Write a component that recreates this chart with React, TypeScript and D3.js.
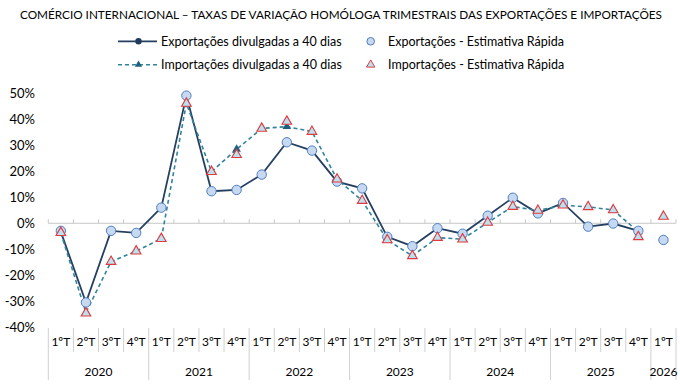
import React, { useEffect, useRef } from 'react';
import * as d3 from 'd3';

// Trimestres 2020T1 .. 2026T1
const years: string[] = ['2020', '2021', '2022', '2023', '2024', '2025', '2026'];
const quarterLabels: string[] = [
    '1ºT', '2ºT', '3ºT', '4ºT', '1ºT', '2ºT', '3ºT', '4ºT', '1ºT', '2ºT', '3ºT', '4ºT',
    '1ºT', '2ºT', '3ºT', '4ºT', '1ºT', '2ºT', '3ºT', '4ºT', '1ºT', '2ºT', '3ºT', '4ºT', '1ºT'
];
const yearOfQuarter: string[] = [
    '2020', '2020', '2020', '2020', '2021', '2021', '2021', '2021', '2022', '2022', '2022', '2022',
    '2023', '2023', '2023', '2023', '2024', '2024', '2024', '2024', '2025', '2025', '2025', '2025', '2026'
];

// Exportações divulgadas a 40 dias (%)
const exp40: (number | null)[] = [
    -3.3, -30.4, -2.9, -3.7, 6.0, 49.0, 12.3, 12.8, 18.7, 31.1, 27.9, 16.0,
    13.4, -5.2, -8.8, -1.9, -4.0, 2.9, 9.8, 3.8, 7.8, -1.3, -0.1, -2.9, null
];
// Importações divulgadas a 40 dias (%)
const imp40: (number | null)[] = [
    -3.8, -34.3, -14.7, -10.7, -5.9, 46.0, 19.8, 28.4, 36.4, 37.1, 35.2, 16.9,
    8.7, -6.4, -12.5, -5.5, -6.1, 0.3, 6.4, 4.9, 6.9, 6.3, 5.1, -3.3, null
];
// Exportações - Estimativa Rápida (%)
const expFlash: (number | null)[] = [
    -2.9, -30.4, -2.9, -3.7, 6.0, 49.0, 12.3, 12.8, 18.7, 31.1, 27.9, 16.0,
    13.4, -5.2, -8.8, -1.9, -4.0, 2.9, 9.8, 3.8, 7.8, -1.3, -0.1, -2.9, -6.4
];
// Importações - Estimativa Rápida (%)
const impFlash: (number | null)[] = [
    -3.6, -34.5, -14.7, -10.7, -5.9, 46.0, 19.8, 26.3, 36.4, 39.1, 35.2, 16.9,
    8.7, -6.4, -12.5, -5.5, -6.1, 0.3, 6.4, 4.9, 6.9, 6.3, 5.1, -5.2, 2.6
];
const yTicks: number[] = [-40, -30, -20, -10, 0, 10, 20, 30, 40, 50];

const FONT = "Lato, 'Open Sans', sans-serif";

const App: React.FC = () => {
    const svgRef = useRef<SVGSVGElement>(null);

    useEffect(() => {
        if (!svgRef.current) return;
        const svg = d3.select(svgRef.current);
        svg.selectAll('*').remove();

        const keys = quarterLabels.map((_, i) => String(i));
        const x = d3.scaleBand<string>().domain(keys).range([48.3, 676]).padding(0);
        const y = d3.scaleLinear().domain([-40, 50]).range([327.5, 93]);
        const cx = (i: number) => (x(String(i)) as number) + x.bandwidth() / 2;

        // Title
        svg.append('text')
            .attr('x', 341).attr('y', 19)
            .attr('text-anchor', 'middle')
            .attr('textLength', 642)
            .attr('lengthAdjust', 'spacingAndGlyphs')
            .style('font-family', FONT).style('font-size', '11.5px').attr('fill', '#000')
            .text('COMÉRCIO INTERNACIONAL – TAXAS DE VARIAÇÃO HOMÓLOGA TRIMESTRAIS DAS EXPORTAÇÕES E IMPORTAÇÕES');

        // Y axis labels
        svg.append('g').selectAll('text')
            .data(yTicks).enter().append('text')
            .attr('x', 35).attr('y', d => y(d))
            .attr('dy', '0.35em')
            .attr('text-anchor', 'end')
            .style('font-family', FONT).style('font-size', '13px').attr('fill', '#000')
            .text(d => `${d}%`);

        // Zero axis line with ticks
        const y0 = y(0);
        svg.append('line')
            .attr('x1', 48.3).attr('x2', 676).attr('y1', y0).attr('y2', y0)
            .attr('stroke', '#c8c8c8').attr('stroke-width', 1);
        svg.append('g').selectAll('line')
            .data(d3.range(keys.length + 1)).enter().append('line')
            .attr('x1', i => 48.3 + i * x.bandwidth()).attr('x2', i => 48.3 + i * x.bandwidth())
            .attr('y1', y0 - 4).attr('y2', y0)
            .attr('stroke', '#c8c8c8').attr('stroke-width', 1);

        // Category axis (bottom)
        const axTop = 328;
        svg.append('g').selectAll('line')
            .data(d3.range(keys.length + 1)).enter().append('line')
            .attr('x1', i => 48.3 + i * x.bandwidth()).attr('x2', i => 48.3 + i * x.bandwidth())
            .attr('y1', axTop)
            .attr('y2', i => (i === 0 || i === keys.length || quarterLabels[i] === '1ºT') ? 380 : 352)
            .attr('stroke', '#d0d0d0').attr('stroke-width', 1);

        svg.append('g').selectAll('text')
            .data(quarterLabels).enter().append('text')
            .attr('x', (_, i) => cx(i)).attr('y', 346)
            .attr('text-anchor', 'middle')
            .style('font-family', FONT).style('font-size', '12px').attr('fill', '#000')
            .text(d => d);

        svg.append('g').selectAll('text')
            .data(years).enter().append('text')
            .attr('x', yr => {
                const idx = yearOfQuarter.map((v, i) => v === yr ? i : -1).filter(i => i >= 0);
                return ((x(String(idx[0])) as number) + (x(String(idx[idx.length - 1])) as number) + x.bandwidth()) / 2;
            })
            .attr('y', 376)
            .attr('text-anchor', 'middle')
            .style('font-family', FONT).style('font-size', '12px').attr('fill', '#000')
            .text(d => d);

        // Lines
        const line = d3.line<number | null>()
            .defined(d => d !== null)
            .x((_, i) => cx(i))
            .y(d => y(d as number));

        svg.append('path')
            .datum(exp40)
            .attr('fill', 'none')
            .attr('stroke', '#243f60')
            .attr('stroke-width', 1.8)
            .attr('d', line);

        svg.append('path')
            .datum(imp40)
            .attr('fill', 'none')
            .attr('stroke', '#31849b')
            .attr('stroke-width', 1.6)
            .attr('stroke-dasharray', '4,3')
            .attr('d', line);

        const tri = (size: number) => d3.symbol().type(d3.symbolTriangle).size(size)();

        // 40-day markers
        svg.append('g').selectAll('circle')
            .data(exp40.map((v, i) => ({ v, i })).filter(d => d.v !== null)).enter().append('circle')
            .attr('cx', d => cx(d.i)).attr('cy', d => y(d.v as number))
            .attr('r', 3).attr('fill', '#1f3a5a');

        svg.append('g').selectAll('path')
            .data(imp40.map((v, i) => ({ v, i })).filter(d => d.v !== null)).enter().append('path')
            .attr('d', tri(32))
            .attr('transform', d => `translate(${cx(d.i)},${y(d.v as number)})`)
            .attr('fill', '#1f5f7d');

        // Estimativa rápida markers
        svg.append('g').selectAll('circle')
            .data(expFlash.map((v, i) => ({ v, i })).filter(d => d.v !== null)).enter().append('circle')
            .attr('cx', d => cx(d.i)).attr('cy', d => y(d.v as number))
            .attr('r', 4.7)
            .attr('fill', '#c6d9f1').attr('stroke', '#4f7fc0').attr('stroke-width', 1);

        svg.append('g').selectAll('path')
            .data(impFlash.map((v, i) => ({ v, i })).filter(d => d.v !== null)).enter().append('path')
            .attr('d', tri(40))
            .attr('transform', d => `translate(${cx(d.i)},${y(d.v as number)})`)
            .attr('fill', '#b9e2ee').attr('stroke', '#e2383f').attr('stroke-width', 1.1);

        // Legend
        const lg = svg.append('g').style('font-family', FONT).style('font-size', '12.5px');
        const r1 = 41.3, r2 = 64.7;
        lg.append('line').attr('x1', 118).attr('x2', 157).attr('y1', r1).attr('y2', r1)
            .attr('stroke', '#243f60').attr('stroke-width', 1.8);
        lg.append('circle').attr('cx', 138.5).attr('cy', r1).attr('r', 3.2).attr('fill', '#1f3a5a');
        lg.append('text').attr('x', 161).attr('y', r1).attr('dy', '0.35em').text('Exportações divulgadas a 40 dias');
        lg.append('circle').attr('cx', 370.7).attr('cy', r1).attr('r', 3.8)
            .attr('fill', '#c6d9f1').attr('stroke', '#4f7fc0').attr('stroke-width', 1);
        lg.append('text').attr('x', 388).attr('y', r1).attr('dy', '0.35em').text('Exportações - Estimativa Rápida');

        lg.append('line').attr('x1', 118).attr('x2', 157).attr('y1', r2).attr('y2', r2)
            .attr('stroke', '#31849b').attr('stroke-width', 1.6).attr('stroke-dasharray', '4,3');
        lg.append('path').attr('d', tri(22)).attr('transform', `translate(138.5,${r2})`).attr('fill', '#1f5f7d');
        lg.append('text').attr('x', 161).attr('y', r2).attr('dy', '0.35em').text('Importações divulgadas a 40 dias');
        lg.append('path').attr('d', tri(30)).attr('transform', `translate(370.7,${r2})`)
            .attr('fill', '#b9e2ee').attr('stroke', '#e2383f').attr('stroke-width', 1);
        lg.append('text').attr('x', 388).attr('y', r2).attr('dy', '0.35em').text('Importações - Estimativa Rápida');
    }, []);

    return (
        <svg ref={svgRef} width={680} height={386}
            style={{ position: 'absolute', left: 0, top: 0, background: '#fff' }} />
    );
};

export default App;
